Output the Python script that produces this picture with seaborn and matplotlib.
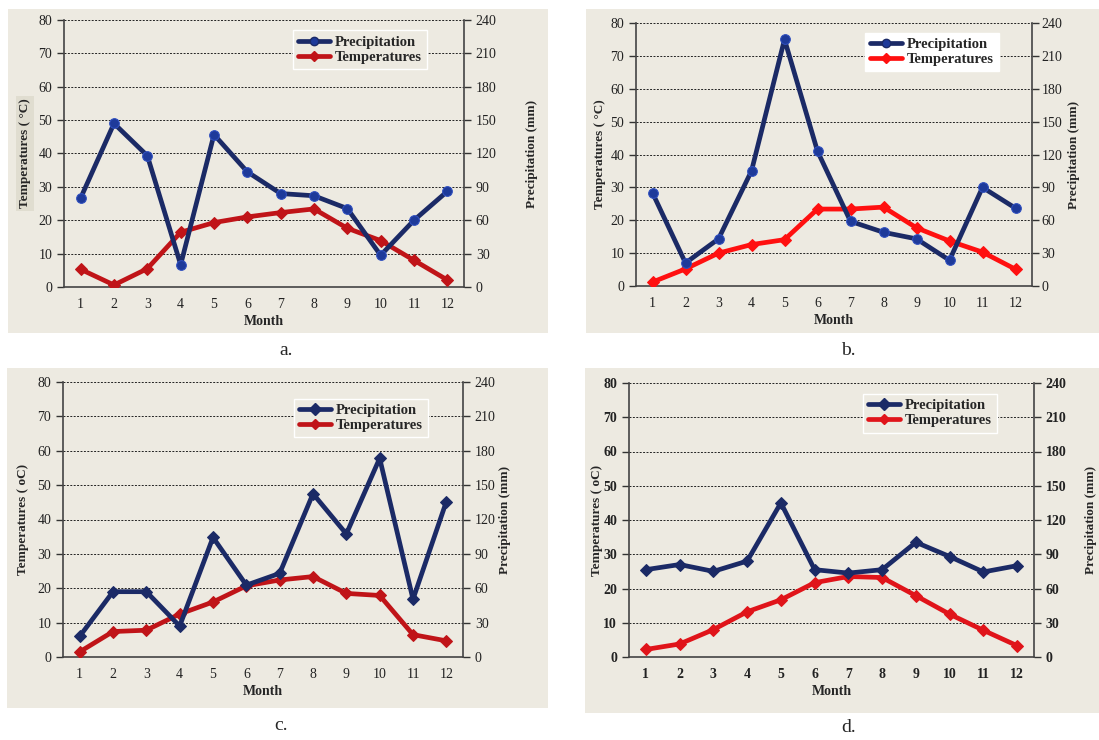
import numpy as np
import seaborn as sns
import matplotlib.pyplot as plt
from matplotlib.patches import Rectangle
from matplotlib.lines import Line2D

sns.set_theme(style="white")
plt.rcParams['font.family'] = ['Liberation Serif', 'DejaVu Serif']

months = list(range(1, 13))

# precipitation in mm (right axis), temperatures in degC (left axis)
precip_a = [80, 147, 118, 20, 137, 103.5, 84, 82, 70.5, 28.5, 60, 86]
temp_a = [5.3, 0.6, 5.5, 16.4, 19.3, 21, 22.3, 23.4, 17.6, 13.9, 8, 2.1]

precip_b = [85, 21, 43, 105, 225, 123, 59, 49, 43, 23.5, 90, 71]
temp_b = [1.2, 5.2, 10, 12.6, 14.1, 23.4, 23.4, 24, 17.7, 13.7, 10.3, 5.1]

precip_c = [18, 57, 57, 27, 104.4, 62.7, 73, 142.5, 107.4, 173.4, 50.4, 135.6]
temp_c = [1.5, 7.4, 7.8, 12.5, 16, 20.7, 22.4, 23.4, 18.5, 17.9, 6.5, 4.7]

precip_d = [76.5, 81, 75, 84, 135, 76.5, 73.5, 76.5, 100.5, 88, 74.5, 80]
temp_d = [2.2, 3.8, 8, 13.2, 16.7, 21.7, 23.5, 23.2, 17.9, 12.5, 7.8, 3.3]

left_ticks = [0, 10, 20, 30, 40, 50, 60, 70, 80]
right_ticks = [0, 30, 60, 90, 120, 150, 180, 210, 240]
captions = ['a.', 'b.', 'c.', 'd.']
ylabels = ['Temperatures ( °C)', 'Temperatures ( °C)', 'Temperatures ( oC)', 'Temperatures ( oC)']

W, H = 1099, 740
fig = plt.figure(figsize=(W / 100, H / 100), dpi=100)
fig.patch.set_facecolor('white')

bg = '#EDEAE1'
navy = '#1B2A66'

# (panel box px, axes box px, precip marker, temp color, bold ticks)
panels = [
    ((8, 9, 540, 324), (64, 20, 400, 267), 'o', '#C01418', False),
    ((586, 9, 513, 324), (636, 23, 396, 263), 'o', '#FF1010', False),
    ((7, 368, 541, 340), (63, 382, 400, 275), 'D', '#C01418', False),
    ((585, 368, 514, 345), (629, 383, 405, 274), 'D', '#E0141A', True),
]
cap_pos = [(286, 350), (848, 350), (281, 725), (849, 727)]
left_lab_x = [-0.082, -0.076, -0.085, -0.064]
right_lab_x = [1.155, 1.09, 1.09, 1.125]
leg_center = [(0.74, 0.888), (0.747, 0.89), (0.745, 0.869), (0.743, 0.89)]
data = [(precip_a, temp_a), (precip_b, temp_b), (precip_c, temp_c), (precip_d, temp_d)]


def fbox(x, y, w, h):
    return [x / W, 1 - (y + h) / H, w / W, h / H]


for i, (pbox, abox, pm, tcol, boldticks) in enumerate(panels):
    x, y, w, h = pbox
    fig.patches.append(Rectangle((x / W, 1 - (y + h) / H), w / W, h / H,
                                 transform=fig.transFigure, facecolor=bg,
                                 edgecolor='none', zorder=-5))
    precip, temp = data[i]
    ax = fig.add_axes(fbox(*abox))
    ax.set_facecolor(bg)
    ax2 = ax.twinx()

    sns.lineplot(x=months, y=temp, ax=ax, color=tcol, linewidth=3.4,
                 marker='D', markersize=6, markeredgecolor=tcol, zorder=3)
    sns.lineplot(x=months, y=precip, ax=ax2, color=navy, linewidth=3.4,
                 marker=pm, markersize=7 if pm == 'o' else 6,
                 markerfacecolor='#1E3A9A' if pm == 'o' else navy,
                 markeredgecolor='#3050C0' if pm == 'o' else navy, zorder=3)

    ax.set_xlim(0.5, 12.5)
    ax.set_ylim(0, 80)
    ax2.set_ylim(0, 240)
    ax.set_yticks(left_ticks)
    ax2.set_yticks(right_ticks)
    ax.set_xticks(months)
    ax.set_xticks(np.arange(0.5, 13, 1), minor=True)
    ax.tick_params(axis='x', which='major', length=0, pad=8)
    ax.tick_params(axis='x', which='minor', length=5, width=1, direction='out', color='#333333')
    ax.tick_params(axis='y', length=5, width=1, direction='out', color='#333333')
    ax2.tick_params(axis='y', length=5, width=1, direction='out', color='#333333',
                    pad=2 if i == 1 else 3.5)
    fw = 'bold' if boldticks else 'normal'
    for lab in ax.get_xticklabels() + ax.get_yticklabels() + ax2.get_yticklabels():
        lab.set_fontsize(10)
        lab.set_fontweight(fw)
        lab.set_color('#222222')

    for yv in left_ticks[1:]:
        ax.axhline(yv, color='#222222', linestyle=(0, (2, 1.5)), linewidth=0.7, zorder=1)

    for a in (ax, ax2):
        for s in ('top', 'bottom', 'left', 'right'):
            a.spines[s].set_visible(False)
    ax.spines['left'].set_visible(True)
    ax.spines['bottom'].set_visible(True)
    ax2.spines['right'].set_visible(True)
    for s in (ax.spines['left'], ax.spines['bottom'], ax2.spines['right']):
        s.set_color('#444444')
        s.set_linewidth(1.2)

    ax.set_xlabel('Month', fontsize=10, fontweight='bold', labelpad=3)
    ax.set_ylabel(ylabels[i], fontsize=9.5, fontweight='bold',
                  bbox=dict(facecolor='#E0DDD0', edgecolor='none', pad=2) if i == 0 else None)
    ax.yaxis.set_label_coords(left_lab_x[i], 0.5)
    ax2.set_ylabel('Precipitation (mm)', fontsize=9.5, fontweight='bold')
    ax2.yaxis.set_label_coords(right_lab_x[i], 0.5)

    handles = [Line2D([], [], color=navy, linewidth=3.4, marker=pm, markersize=6,
                      markerfacecolor='#1E3A9A' if pm == 'o' else navy,
                      markeredgecolor=navy),
               Line2D([], [], color=tcol, linewidth=3.4, marker='D', markersize=5)]
    leg = ax2.legend(handles, ['Precipitation', 'Temperatures'], loc='center',
                     bbox_to_anchor=leg_center[i], frameon=True, fancybox=False,
                     prop={'weight': 'bold', 'size': 10.5}, handlelength=2.2,
                     borderpad=0.35, labelspacing=0.15, handletextpad=0.3,
                     borderaxespad=0)
    leg.get_frame().set_facecolor(bg if i != 1 else 'white')
    leg.get_frame().set_edgecolor('#FFFFFF')
    leg.get_frame().set_linewidth(1)
    leg.get_frame().set_alpha(1)

    cx, cy = cap_pos[i]
    fig.text(cx / W, 1 - cy / H, captions[i], fontsize=14, ha='center', va='center')

fig.savefig('out.png', dpi=100)
